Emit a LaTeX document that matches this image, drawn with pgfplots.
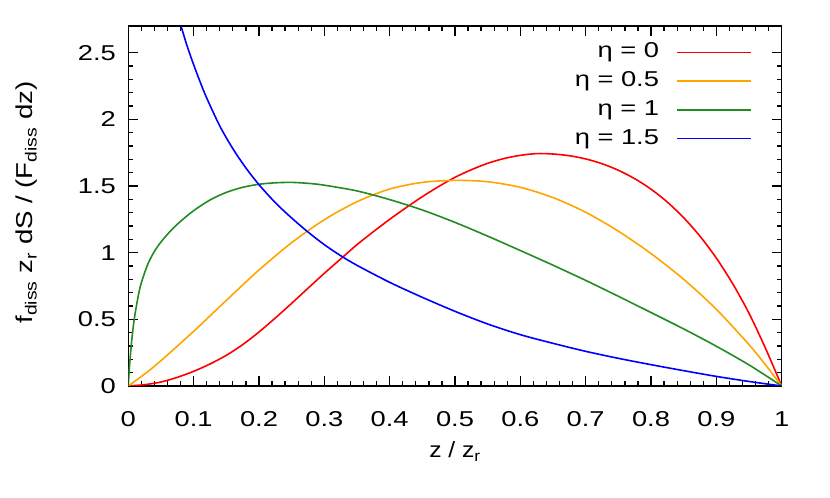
\documentclass[border=0pt]{standalone}
\usepackage{fontspec}
\setmainfont{Liberation Sans}[FakeStretch=1.12]
\newfontfamily\tickfont{Liberation Sans}[FakeStretch=1.27]
\newfontfamily\ylabfont{Liberation Sans}[FakeStretch=1.2]
\usepackage{pgfplots}
\usepackage{pgfplotstable}
\pgfplotsset{compat=1.18}
\definecolor{cred}{RGB}{255,0,0}
\definecolor{corange}{RGB}{255,165,0}
\definecolor{cgreen}{RGB}{34,139,34}
\definecolor{cblue}{RGB}{0,0,255}

\pgfplotstableread{
x y
0 0
0.025 0.01
0.05 0.03
0.075 0.065
0.1 0.11
0.125 0.165
0.15 0.23
0.175 0.31
0.2 0.405
0.225 0.51
0.25 0.62
0.275 0.733
0.3 0.845
0.325 0.953
0.35 1.06
0.375 1.157
0.4 1.25
0.425 1.337
0.45 1.42
0.475 1.496
0.5 1.565
0.525 1.622
0.55 1.67
0.575 1.706
0.6 1.73
0.625 1.743
0.65 1.74
0.675 1.727
0.7 1.703
0.725 1.667
0.75 1.618
0.775 1.555
0.8 1.476
0.825 1.379
0.85 1.262
0.875 1.123
0.9 0.959
0.925 0.767
0.95 0.545
0.975 0.285
1 0
}\etazero

\pgfplotstableread{
x y
0 0
0.025 0.09
0.05 0.19
0.1 0.41
0.15 0.642
0.2 0.87
0.25 1.075
0.3 1.247
0.35 1.382
0.4 1.477
0.45 1.527
0.5 1.542
0.55 1.532
0.6 1.49
0.65 1.413
0.7 1.303
0.75 1.161
0.8 0.993
0.85 0.80
0.9 0.575
0.95 0.31
0.975 0.16
1 0
}\etahalf

\pgfplotstableread{
x y
0 0
0.001 0.09
0.0025 0.19
0.005 0.33
0.0075 0.44
0.01 0.53
0.015 0.67
0.02 0.775
0.03 0.915
0.04 1.01
0.05 1.08
0.065 1.165
0.08 1.235
0.1 1.315
0.125 1.395
0.15 1.452
0.175 1.49
0.2 1.513
0.225 1.524
0.25 1.527
0.275 1.52
0.3 1.506
0.35 1.463
0.4 1.398
0.45 1.32
0.5 1.227
0.55 1.124
0.6 1.016
0.65 0.906
0.7 0.792
0.75 0.673
0.8 0.551
0.85 0.428
0.9 0.298
0.95 0.158
1 0
}\etaone

\pgfplotstableread{
x y
0.081 2.695
0.09 2.55
0.1 2.41
0.11 2.28
0.12 2.16
0.14 1.95
0.16 1.78
0.18 1.635
0.2 1.51
0.225 1.375
0.25 1.26
0.275 1.155
0.3 1.06
0.325 0.9775
0.35 0.905
0.4 0.7775
0.45 0.665
0.5 0.56
0.55 0.465
0.6 0.385
0.65 0.32
0.7 0.26
0.75 0.2075
0.8 0.16
0.85 0.115
0.9 0.072
0.95 0.034
1 0
}\etaonehalf

\begin{document}
\begin{tikzpicture}[font=\fontsize{22bp}{26bp}\selectfont]
\useasboundingbox (0,0) rectangle (830bp,498bp);
\begin{axis}[
  at={(128.3bp,112bp)}, anchor=south west,
  scale only axis, width=653.4bp, height=360bp,
  xmin=0, xmax=1, ymin=0, ymax=2.7,
  xtick={0,0.1,0.2,0.3,0.4,0.5,0.6,0.7,0.8,0.9,1},
  ytick={0,0.5,1,1.5,2,2.5},
  minor x tick num=4, minor y tick num=4,
  tick align=inside,
  major tick length=10bp, minor tick length=5bp,
  axis line style={line width=1.5bp},
  every tick/.style={line width=1.3bp, black},
  /pgf/number format/assume math mode=true,
  ticklabel style={font=\tickfont\fontsize{21.5bp}{25bp}\selectfont},
  xticklabel style={yshift=-22bp},
  yticklabel style={xshift=-9bp},
  xlabel={z / z\textsubscript{r}},
  ylabel={f\textsubscript{diss} z\textsubscript{r} dS / (F\textsubscript{diss} dz)},
  xlabel style={at={(axis description cs:0.5,-0.2)}, anchor=base},
  ylabel style={at={(axis description cs:-0.146,0.51)}, anchor=base, rotate=0,
    font=\ylabfont\fontsize{23bp}{27bp}\selectfont},
  legend plot pos=right,
  legend cell align=right,
  legend style={at={(0.954,0.953)}, anchor=north east, draw=none, fill=none,
    inner sep=0pt, outer sep=0pt, row sep=9.7bp, column sep=17bp,
    font=\tickfont\fontsize{21.5bp}{25bp}\selectfont,
    nodes={inner sep=0pt, text height=15bp, text depth=4bp}},
  legend image code/.code={\draw[#1] (0bp,0bp) -- (74bp,0bp);},
  every axis plot/.append style={line width=1.6bp, smooth},
]
\addplot[cred] table {\etazero};
\addlegendentry{η = 0}
\addplot[corange] table {\etahalf};
\addlegendentry{η = 0.5}
\addplot[cgreen] table {\etaone};
\addlegendentry{η = 1}
\addplot[cblue] table {\etaonehalf};
\addlegendentry{η = 1.5}
\end{axis}
\end{tikzpicture}
\end{document}
